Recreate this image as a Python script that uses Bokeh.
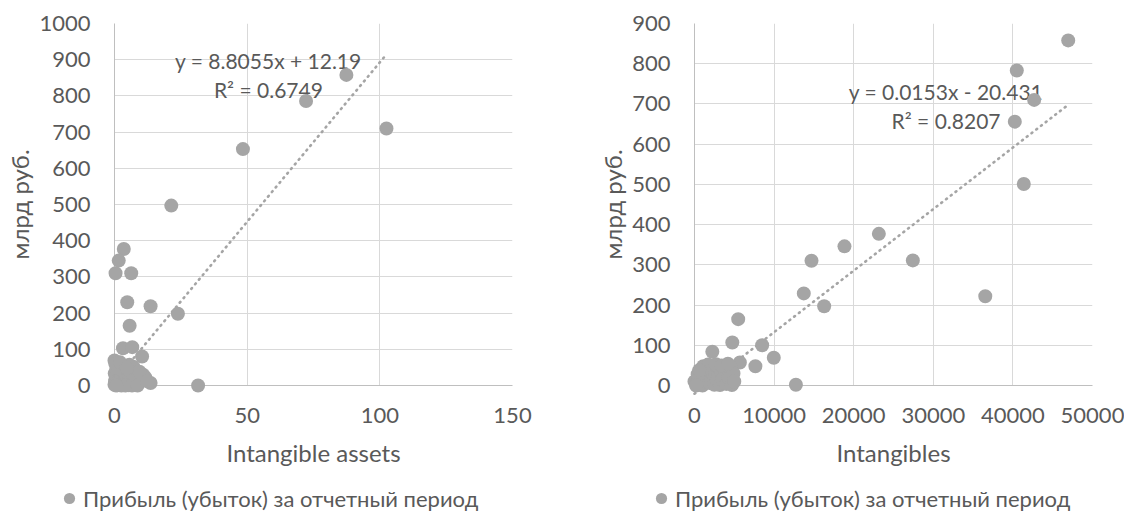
from bokeh.plotting import figure
from bokeh.layouts import row, column
from bokeh.models import (Range1d, FixedTicker, Label, Legend, LegendItem,
                          NumeralTickFormatter, ColumnDataSource)
from bokeh.embed import file_html
from bokeh.resources import INLINE

# ---------------- data ----------------
series_name = "Прибыль (убыток) за отчетный период"
y_title = "млрд руб."

# Left chart: Intangible assets vs profit (bn RUB)
left_x = [87.4, 72.2, 102.5, 48.4, 21.4, 3.5, 1.6, 0.4, 6.3, 4.8, 13.6, 23.9, 5.7,
          3.2, 6.7, 10.4, 31.5, 13.6, 0.0,
          0.0, 0.2, 0.5, 0.1, 0.7, 1.0, 0.3, 1.4, 1.9, 2.4, 2.9, 3.3, 3.8, 4.3, 4.9,
          5.4, 5.9, 6.4, 6.9, 7.4, 7.9, 8.4, 8.9, 9.6, 10.8, 11.6, 1.1, 2.6, 4.1,
          6.6, 8.7, 3.0, 5.6, 7.1, 0.6, 1.7, 2.1, 9.4, 12.3, 4.6]
left_y = [858, 786, 710, 653, 497, 377, 345, 310, 310, 230, 219, 198, 165,
          103, 106, 80, 0, 7, 69,
          2, 12, 22, 33, 44, 55, 60, 6, 18, 29, 41, 4, 15, 26, 37,
          1, 10, 22, 34, 46, 3, 14, 25, 17, 30, 22, 1, 0, 0,
          0, 0, 52, 57, 52, 0, 47, 64, 38, 12, 48]
left_trend = (8.8055, 12.19)
left_eq = "y = 8.8055x + 12.19"
left_r2 = "R² = 0.6749"
left_xticks = [0, 50, 100, 150]
left_yticks = [0, 100, 200, 300, 400, 500, 600, 700, 800, 900, 1000]

# Right chart: Intangibles vs profit (bn RUB)
right_x = [46950, 40490, 42670, 40240, 41370, 36530, 27430, 23160, 18840, 14700,
           13730, 16290, 12740, 9960, 8500, 7650, 5490, 4750, 2240, 5700, 0,
           300, 500, 700, 900, 1000, 1200, 1300, 1500, 1600, 1800, 1900, 2000,
           2100, 2300, 2400, 2500, 2600, 2800, 2900, 3000, 3200, 3300, 3500, 3600,
           3800, 4000, 4100, 4300, 4500, 4700, 4900, 5000, 400, 1100, 1700, 2700,
           3400, 4200, 200, 600]
right_y = [858, 783, 710, 656, 501, 222, 311, 377, 346, 310,
           229, 197, 2, 69, 100, 48, 165, 107, 84, 57, 10,
           3, 18, 8, 25, 0, 33, 12, 20, 40, 28, 6, 38,
           15, 45, 25, 2, 33, 12, 44, 22, 1, 36, 14, 48,
           27, 4, 40, 18, 46, 1, 30, 10, 28, 48, 52, 53,
           50, 54, 0, 38]
right_trend = (0.0153, -20.431)
right_eq = "y = 0.0153x - 20.431"
right_r2 = "R² = 0.8207"
right_xticks = [0, 10000, 20000, 30000, 40000, 50000]
right_yticks = [0, 100, 200, 300, 400, 500, 600, 700, 800, 900]

# ---------------- styling ----------------
FONT = "Lato"
TXT = "#595959"
MARK = "#A5A5A5"
GRID = "#D9D9D9"
AXL = "#BFBFBF"
CHART_H = 476
LEG_H = 38


def make_chart(xs, ys, trend, eq, r2, xticks, yticks, xtitle, width, bl, br,
               eq_pos, r2_pos):
    p = figure(width=width, height=CHART_H,
               x_range=Range1d(xticks[0], xticks[-1]),
               y_range=Range1d(yticks[0], yticks[-1]),
               output_backend="svg", toolbar_location=None,
               min_border_left=bl, min_border_right=br,
               min_border_top=23, min_border_bottom=91)
    p.outline_line_color = None
    p.background_fill_color = "white"
    p.border_fill_color = "white"

    for ax in (p.xaxis[0], p.yaxis[0]):
        ax.major_tick_line_color = None
        ax.minor_tick_line_color = None
        ax.axis_line_color = AXL
        ax.axis_line_width = 1
        ax.major_label_text_font = FONT
        ax.major_label_text_font_size = "22px"
        ax.major_label_text_color = TXT
        ax.axis_label_text_font = FONT
        ax.axis_label_text_font_size = "24px"
        ax.axis_label_text_font_style = "normal"
        ax.axis_label_text_color = TXT
        ax.formatter = NumeralTickFormatter(format="0")

    p.xaxis[0].ticker = FixedTicker(ticks=xticks)
    p.yaxis[0].ticker = FixedTicker(ticks=yticks)
    p.xaxis[0].axis_label = xtitle
    p.yaxis[0].axis_label = y_title
    p.xaxis[0].major_label_standoff = 16
    p.xaxis[0].axis_label_standoff = 12
    p.yaxis[0].major_label_standoff = 18
    p.yaxis[0].axis_label_standoff = 2

    p.xgrid[0].ticker = FixedTicker(ticks=xticks)
    p.ygrid[0].ticker = FixedTicker(ticks=yticks)
    for g in (p.xgrid[0], p.ygrid[0]):
        g.grid_line_color = GRID
        g.grid_line_width = 1

    # trendline over the data's x extent
    slope, icpt = trend
    x0, x1 = min(xs), max(xs)
    tl = p.line([x0, x1], [slope * x0 + icpt, slope * x1 + icpt],
                line_color=MARK, line_width=2.6, line_dash="1 5",
                line_cap="round")
    tl.level = "overlay"

    src = ColumnDataSource(dict(x=xs, y=ys))
    sc = p.scatter("x", "y", source=src, size=14, marker="circle",
                   fill_color=MARK, line_color=MARK, line_width=0)
    sc.level = "overlay"

    for txt, (lx, ly) in ((eq, eq_pos), (r2, r2_pos)):
        p.add_layout(Label(x=lx, y=ly, text=txt, text_font=FONT,
                           text_font_size="21px", text_color=TXT,
                           text_align="center", text_baseline="middle"))
    return p


def make_legend(width, loc, xs, ys):
    # legend strip under each chart; its proxy renderer holds the series' first
    # point but the strip's ranges keep it out of view
    lf = figure(width=width, height=LEG_H, x_range=Range1d(-1e9, -1e9 + 1),
                y_range=Range1d(-1e9, -1e9 + 1), x_axis_type=None,
                y_axis_type=None, output_backend="svg", toolbar_location=None,
                min_border=0, outline_line_color=None)
    lf.grid.visible = False
    r = lf.scatter(x=xs[:1], y=ys[:1], size=14, marker="circle",
                   fill_color=MARK, line_color=MARK, line_width=0)
    leg = Legend(items=[LegendItem(label=series_name, renderers=[r])],
                 location=loc, orientation="horizontal",
                 border_line_color=None, background_fill_alpha=0,
                 padding=0, margin=0, spacing=0,
                 glyph_width=28, glyph_height=28, label_standoff=0,
                 label_text_font=FONT, label_text_font_size="22px",
                 label_text_color=TXT)
    lf.add_layout(leg, "center")
    return lf


p1 = make_chart(left_x, left_y, left_trend, left_eq, left_r2, left_xticks,
                left_yticks, "Intangible assets", 560, 114, 48,
                (58, 897), (58, 819))
p2 = make_chart(right_x, right_y, right_trend, right_eq, right_r2,
                right_xticks, right_yticks, "Intangibles", 564, 134, 32,
                (31600, 732), (31600, 659))
l1 = make_legend(560, (55, 2), left_x, left_y)
l2 = make_legend(564, (87, 2), right_x, right_y)

p = column(row(p1, p2), row(l1, l2))
open("out.html", "w").write(file_html(p, INLINE))
